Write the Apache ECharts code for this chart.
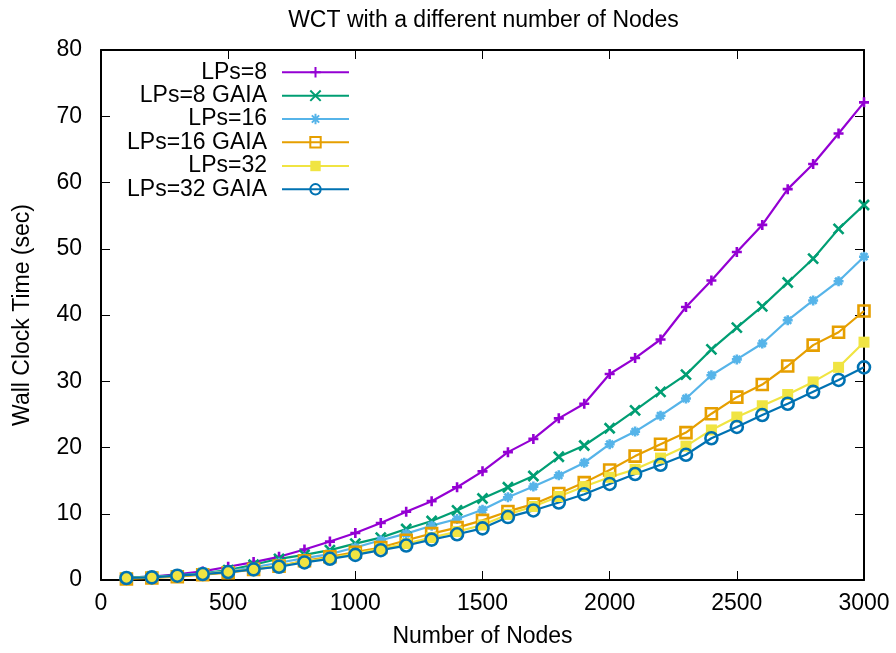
<!DOCTYPE html>
<html>
<head>
<meta charset="utf-8">
<script src="https://cdn.jsdelivr.net/npm/echarts@6/dist/echarts.min.js"></script>
<style>
html,body{margin:0;padding:0;background:#fff;}
#chart{width:896px;height:653px;}
</style>
</head>
<body>
<div id="chart"></div>
<script>
// ---- data ----
var nodes = [100,200,300,400,500,600,700,800,900,1000,1100,1200,1300,1400,1500,1600,1700,1800,1900,2000,2100,2200,2300,2400,2500,2600,2700,2800,2900,3000];
var lps8      = [0.35,0.5,0.85,1.3,2.0,2.7,3.5,4.6,5.8,7.1,8.6,10.3,11.9,14.0,16.4,19.3,21.3,24.4,26.6,31.1,33.5,36.3,41.2,45.2,49.5,53.6,59.0,62.8,67.4,72.1];
var lps8gaia  = [0.35,0.5,0.7,1.0,1.5,2.3,3.2,3.8,4.5,5.5,6.4,7.7,8.9,10.5,12.3,14.0,15.7,18.6,20.3,22.9,25.6,28.4,31.0,34.8,38.1,41.3,44.9,48.5,53.0,56.6];
var lps16     = [0.3,0.45,0.65,0.95,1.35,1.9,2.6,3.3,3.9,4.9,6.0,7.0,8.2,9.2,10.6,12.5,14.1,15.8,17.7,20.5,22.4,24.8,27.4,30.9,33.3,35.7,39.2,42.2,45.1,48.8];
var lps16gaia = [0.15,0.3,0.5,0.8,1.1,1.6,2.1,2.9,3.5,4.2,4.9,6.0,7.0,7.9,9.0,10.35,11.45,13.05,14.7,16.6,18.7,20.5,22.25,25.1,27.6,29.5,32.3,35.45,37.4,40.6];
var lps32     = [0.3,0.4,0.6,0.9,1.25,1.7,2.1,2.8,3.3,4.0,4.7,5.5,6.4,7.3,8.3,9.9,11.1,12.6,14.1,15.5,16.7,18.4,20.2,22.65,24.6,26.3,28.0,29.9,32.1,35.9];
var lps32gaia = [0.3,0.4,0.65,0.9,1.2,1.6,2.0,2.65,3.2,3.8,4.5,5.2,6.1,6.9,7.8,9.5,10.5,11.7,12.95,14.5,16.0,17.4,18.9,21.4,23.1,24.9,26.6,28.4,30.2,32.1];
var seriesNames = ['LPs=8','LPs=8 GAIA','LPs=16','LPs=16 GAIA','LPs=32','LPs=32 GAIA'];
var seriesValues = [lps8, lps8gaia, lps16, lps16gaia, lps32, lps32gaia];
var xTicks = {min:0, max:3000, interval:500};
var yTicks = {min:0, max:80, interval:10};
var chartTitle = 'WCT with a different number of Nodes';
var xName = 'Number of Nodes';
var yName = 'Wall Clock Time (sec)';

// ---- styles ----
var colors = ['#9400d3','#009e73','#56b4e9','#e69f00','#f0e442','#0072b2'];
var symbols = [
  'path://M5,0L5,10M0,5L10,5',
  'path://M0,0L10,10M10,0L0,10',
  'path://M5,0L5,10M0,5L10,5M1.5,1.5L8.5,8.5M8.5,1.5L1.5,8.5',
  'rect',
  'rect',
  'circle'
];
var symbolSizes = [10,10,10,11,11,12];
var filled = [false,false,false,false,true,false];
var FONT = 'Liberation Sans, Arial, Helvetica, sans-serif';

var series = seriesNames.map(function(name, i){
  return {
    name: name,
    type: 'line',
    data: nodes.map(function(x, j){ return [x, seriesValues[i][j]]; }),
    symbol: symbols[i],
    symbolSize: symbolSizes[i],
    showAllSymbol: true,
    lineStyle: {color: colors[i], width: 2.2},
    itemStyle: {
      color: filled[i] ? colors[i] : 'rgba(0,0,0,0)',
      borderColor: colors[i],
      borderWidth: filled[i] ? 0 : 2.6
    },
    emphasis: {disabled: true},
    z: 2
  };
});

var rowCenters = [72.3, 95.7, 119, 142.3, 166, 189.3];
var legends = seriesNames.map(function(name, i){
  return {
    data: [name],
    orient: 'vertical',
    align: 'right',
    right: 546,
    top: rowCenters[i] - 11.5,
    padding: 0,
    itemWidth: 67,
    itemHeight: 13,
    selectedMode: false,
    textStyle: {fontSize: 23, fontFamily: FONT, color: '#000', lineHeight: 23, padding: [0, 10, 0, 0]}
  };
});

var axisLineStyle = {color: '#000', width: 2};
var tickStyle = {show: true, inside: true, length: 9, lineStyle: {color: '#000', width: 1}};
function plain(v){ return String(v); }

var option = {
  animation: false,
  backgroundColor: '#fff',
  title: {
    text: chartTitle,
    left: 483.5,
    textAlign: 'center',
    top: 9,
    padding: 0,
    textStyle: {fontSize: 23, fontWeight: 'normal', fontFamily: FONT, color: '#000', lineHeight: 23}
  },
  legend: legends,
  grid: {left: 101, right: 32, top: 50, bottom: 71, containLabel: false},
  xAxis: [
    {
      type: 'value', position: 'bottom',
      min: xTicks.min, max: xTicks.max, interval: xTicks.interval,
      name: xName, nameLocation: 'middle', nameGap: 45,
      nameTextStyle: {fontSize: 23, fontFamily: FONT, color: '#000'},
      axisLine: {show: true, onZero: false, lineStyle: axisLineStyle},
      axisTick: tickStyle,
      axisLabel: {fontSize: 23, fontFamily: FONT, color: '#000', margin: 12, formatter: plain},
      splitLine: {show: false}
    },
    {
      type: 'value', position: 'top',
      min: xTicks.min, max: xTicks.max, interval: xTicks.interval,
      axisLine: {show: true, onZero: false, lineStyle: axisLineStyle},
      axisTick: tickStyle,
      axisLabel: {show: false},
      splitLine: {show: false}
    }
  ],
  yAxis: [
    {
      type: 'value', position: 'left',
      min: yTicks.min, max: yTicks.max, interval: yTicks.interval,
      name: yName, nameLocation: 'middle', nameGap: 67,
      nameTextStyle: {fontSize: 23, fontFamily: FONT, color: '#000'},
      axisLine: {show: true, onZero: false, lineStyle: axisLineStyle},
      axisTick: tickStyle,
      axisLabel: {fontSize: 23, fontFamily: FONT, color: '#000', margin: 19, formatter: plain},
      splitLine: {show: false}
    },
    {
      type: 'value', position: 'right',
      min: yTicks.min, max: yTicks.max, interval: yTicks.interval,
      axisLine: {show: true, onZero: false, lineStyle: axisLineStyle},
      axisTick: tickStyle,
      axisLabel: {show: false},
      splitLine: {show: false}
    }
  ],
  series: series
};

var chart = echarts.init(document.getElementById('chart'), null, {renderer: 'canvas'});
chart.setOption(option);
</script>
</body>
</html>
